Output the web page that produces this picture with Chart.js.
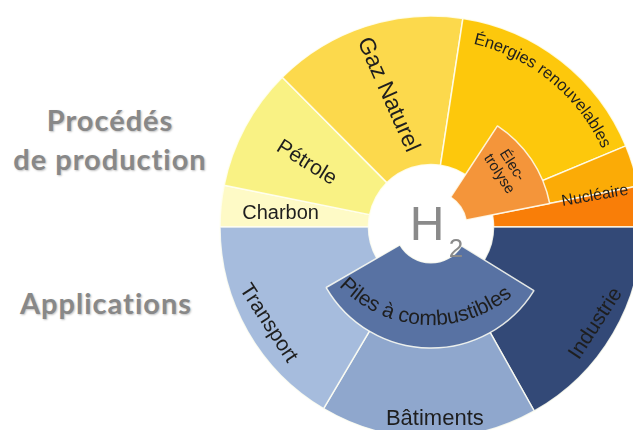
<!DOCTYPE html>
<html lang="fr">
<head>
<meta charset="utf-8">
<script src="https://cdn.jsdelivr.net/npm/chart.js@4.4.0/dist/chart.umd.min.js"></script>
<style>
html, body { margin: 0; padding: 0; width: 633px; height: 430px; overflow: hidden; background: #fff; }
body { position: relative; }
canvas { position: absolute; left: 211px; top: 7px; }
.titre {
    position: absolute; left: 0; width: 220px; text-align: center;
    font-family: Lato, sans-serif; font-weight: 700; font-size: 29px; line-height: 39px;
    letter-spacing: 1px;
    color: #888; text-shadow: 1px 1px 2px rgba(0, 0, 0, 0.25);
}
</style>
</head>
<body>
<div class="titre" style="top: 100px;">Procédés<br>de production</div>
<div class="titre" style="top: 283px; width: 212px;">Applications</div>
<canvas id="anneau" width="440" height="440"></canvas>
<canvas id="coeur" width="440" height="440"></canvas>
<script>
// parts en degrés, en partant de l'horizontale gauche, sens horaire
const categories = ['Charbon', 'Pétrole', 'Gaz Naturel', 'Énergies renouvelables', 'Nucléaire', '', 'Industrie', 'Bâtiments', 'Transport'];
const parts = [11.4, 33.8, 53.5, 58.7, 11.4, 11.2, 60.7, 59.9, 59.4];
const couleurs = ['#fefac6', '#f9f284', '#fcd94c', '#fdc80c', '#fbab06', '#f97e08', '#334977', '#8fa7cd', '#a6bcdd'];

// anneau intérieur (technologies)
const categoriesInternes = ['', 'Élec-\ntrolyse', '', 'Piles à combustibles', ''];
const partsInternes = [123.3, 45.5, 42.9, 118.3, 30];
const couleursInternes = ['rgba(0,0,0,0)', '#f4953a', 'rgba(0,0,0,0)', '#5872a3', 'rgba(0,0,0,0)'];

const styleEtiquettes = {
    'Charbon': { pos: 0.46, r: 151, taille: 20, rot: 0 },
    'Pétrole': { pos: 0.47, r: 140, taille: 21, rot: 32 },
    'Gaz Naturel': { pos: 0.5, r: 139, taille: 23, rot: 66 },
    'Énergies renouvelables': { pos: 0.52, r: 188, taille: 16.5, arc: 'convexe' },
    'Nucléaire': { pos: 1.04, r: 167, taille: 16, rot: -10 },
    'Industrie': { pos: 0.5, r: 191, taille: 21, rot: -57 },
    'Bâtiments': { pos: 0.47, r: 192, taille: 22, rot: 0 },
    'Transport': { pos: 0.485, r: 189, taille: 21, rot: 57 },
    'Élec-\ntrolyse': { pos: 0.42, r: 94, taille: 15, rot: 57 },
    // arc plus plat : centre du texte remonté de 30 px
    'Piles à combustibles': { pos: 0.52, r: 128, dy: -30, taille: 21, arc: 'concave' }
};

const police = '"Liberation Sans", Arial, sans-serif';

function texteCourbe(ctx, txt, cx, cy, r, milieu, convexe) {
    const sens = convexe ? 1 : -1;
    const total = ctx.measureText(txt).width;
    let a = milieu - sens * total / (2 * r);
    ctx.textAlign = 'center';
    ctx.textBaseline = 'alphabetic';
    for (const ch of txt) {
        const w = ctx.measureText(ch).width;
        const ac = a + sens * w / (2 * r);
        ctx.save();
        ctx.translate(cx + r * Math.cos(ac), cy + r * Math.sin(ac));
        ctx.rotate(ac + sens * Math.PI / 2);
        ctx.fillText(ch, 0, 0);
        ctx.restore();
        a += sens * w / r;
    }
}

const etiquettes = {
    id: 'etiquettes',
    afterDatasetsDraw(chart) {
        const ctx = chart.ctx;
        chart.getDatasetMeta(0).data.forEach((arc, i) => {
            const label = chart.data.labels[i];
            const st = styleEtiquettes[label];
            if (!st) return;
            const { x, y, startAngle, endAngle } = arc.getProps(['x', 'y', 'startAngle', 'endAngle'], true);
            const a = startAngle + (endAngle - startAngle) * st.pos;
            ctx.save();
            ctx.fillStyle = '#1e1e1e';
            ctx.font = st.taille + 'px ' + police;
            if (st.arc) {
                texteCourbe(ctx, label, x, y + (st.dy || 0), st.r, a, st.arc === 'convexe');
            } else {
                ctx.translate(x + st.r * Math.cos(a), y + st.r * Math.sin(a));
                ctx.rotate(st.rot * Math.PI / 180);
                ctx.textAlign = 'center';
                ctx.textBaseline = 'middle';
                const lignes = label.split('\n');
                lignes.forEach((l, k) => ctx.fillText(l, 0, (k - (lignes.length - 1) / 2) * st.taille * 1.05));
            }
            ctx.restore();
        });
    }
};

const symbole = {
    id: 'symbole',
    afterDraw(chart) {
        const ctx = chart.ctx;
        const { x, y } = chart.getDatasetMeta(0).data[0].getProps(['x', 'y'], true);
        ctx.save();
        ctx.fillStyle = '#8a8a8a';
        ctx.textAlign = 'center';
        ctx.textBaseline = 'alphabetic';
        ctx.font = '48px ' + police;
        ctx.fillText('H', x - 4, y + 13);
        ctx.font = '26px ' + police;
        ctx.fillText('2', x + 25, y + 30);
        ctx.restore();
    }
};

const optionsCommunes = {
    responsive: false,
    animation: false,
    events: [],
    rotation: 270,
    layout: { padding: 0 },
    plugins: { legend: { display: false }, tooltip: { enabled: false } }
};

new Chart(document.getElementById('anneau'), {
    type: 'doughnut',
    data: {
        labels: categories,
        datasets: [{
            data: parts,
            backgroundColor: couleurs,
            borderColor: 'rgba(255,255,245,0.85)',
            borderWidth: 1.5,
            hoverOffset: 0
        }]
    },
    options: { ...optionsCommunes, radius: 211, cutout: 65 },
    plugins: [etiquettes]
});

new Chart(document.getElementById('coeur'), {
    type: 'doughnut',
    data: {
        labels: categoriesInternes,
        datasets: [{
            data: partsInternes,
            backgroundColor: couleursInternes,
            borderColor: 'rgba(255,255,245,0.85)',
            borderWidth: partsInternes.map((v, i) => categoriesInternes[i] ? 1.5 : 0),
            hoverOffset: 0
        }]
    },
    options: { ...optionsCommunes, radius: 121, cutout: 65 },
    plugins: [etiquettes, symbole]
});
</script>
</body>
</html>
